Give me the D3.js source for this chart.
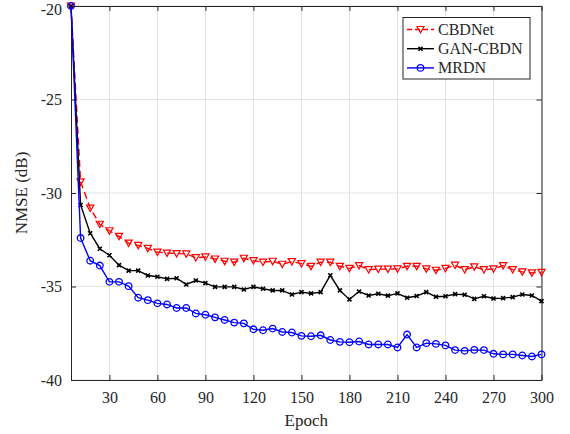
<!DOCTYPE html>
<html>
<head>
<meta charset="utf-8">
<script src="https://cdn.jsdelivr.net/npm/d3@7"></script>
<style>
  body { margin: 0; background: #fff; }
</style>
</head>
<body>
<svg id="chart" width="570" height="434"></svg>
<script>
// values
const epochs = [6, 12, 18, 24, 30, 36, 42, 48, 54, 60, 66, 72, 78, 84, 90, 96, 102, 108, 114, 120,
  126, 132, 138, 144, 150, 156, 162, 168, 174, 180, 186, 192, 198, 204, 210, 216, 222, 228, 234, 240,
  246, 252, 258, 264, 270, 276, 282, 288, 294, 300]

const cbdnet = [-20, -29.4, -30.81, -31.67, -32.02, -32.32, -32.68, -32.8, -32.96, -33.16,
  -33.21, -33.24, -33.26, -33.46, -33.42, -33.53, -33.65, -33.7, -33.49, -33.62,
  -33.7, -33.65, -33.81, -33.67, -33.78, -33.92, -33.7, -33.7, -33.92, -34.03,
  -33.88, -34.1, -34.07, -34.07, -34.06, -33.92, -33.92, -34.06, -34.13, -34.03,
  -33.86, -34.1, -33.95, -34.1, -34.06, -33.88, -34.1, -34.22, -34.27, -34.24]

const ganCbdn = [-20, -30.64, -32.15, -32.98, -33.33, -33.86, -34.15, -34.15, -34.41, -34.48,
  -34.59, -34.56, -34.89, -34.68, -34.82, -35.02, -35.02, -35.02, -35.16, -35.02,
  -35.12, -35.21, -35.21, -35.43, -35.3, -35.37, -35.3, -34.4, -35.21, -35.69,
  -35.27, -35.48, -35.39, -35.49, -35.37, -35.6, -35.51, -35.3, -35.55, -35.52,
  -35.41, -35.44, -35.66, -35.52, -35.64, -35.62, -35.57, -35.43, -35.48, -35.78]

const mrdn = [-20, -32.41, -33.62, -33.88, -34.75, -34.75, -34.98, -35.6, -35.73, -35.9,
  -35.96, -36.15, -36.15, -36.44, -36.51, -36.65, -36.79, -36.93, -36.97, -37.29,
  -37.34, -37.25, -37.43, -37.46, -37.64, -37.66, -37.61, -37.86, -37.96, -37.98,
  -37.94, -38.1, -38.1, -38.1, -38.26, -37.57, -38.26, -38.03, -38.07, -38.15,
  -38.4, -38.44, -38.39, -38.4, -38.6, -38.63, -38.63, -38.69, -38.74, -38.63]

const xTicks = [30, 60, 90, 120, 150, 180, 210, 240, 270, 300]
const yTicks = [-40, -35, -30, -25, -20]

const serif = '"Liberation Serif", "Times New Roman", Times, serif'

const margin = { top: 6, right: 28.5, bottom: 54, left: 71 }
const width = 570 - margin.left - margin.right
const height = 434 - margin.top - margin.bottom

const svg = d3.select('#chart')
const chart = svg.append('g')
  .attr('transform', `translate(${margin.left}, ${margin.top})`)

const xScale = d3.scaleLinear().domain([6, 300]).range([0, width])
const yScale = d3.scaleLinear().domain([-40, -20]).range([height, 0])

// grid
chart.append('g')
  .selectAll('line.gx')
  .data(xTicks)
  .enter().append('line')
    .attr('x1', d => xScale(d)).attr('x2', d => xScale(d))
    .attr('y1', 0).attr('y2', height)
    .attr('stroke', '#e3e3e3').attr('stroke-width', 1)
chart.append('g')
  .selectAll('line.gy')
  .data(yTicks)
  .enter().append('line')
    .attr('y1', d => yScale(d)).attr('y2', d => yScale(d))
    .attr('x1', 0).attr('x2', width)
    .attr('stroke', '#e3e3e3').attr('stroke-width', 1)

// axes (ticks inward, box all round)
const axisColor = '#262626'
const styleAxis = g => {
  g.attr('font-family', serif)
  g.select('.domain').attr('stroke', axisColor)
  g.selectAll('.tick line').attr('stroke', axisColor)
  g.selectAll('.tick text')
    .attr('fill', axisColor)
    .style('font-family', serif)
    .style('font-size', '16px')
}
chart.append('g')
  .attr('transform', `translate(0, ${height})`)
  .call(d3.axisBottom(xScale).tickValues(xTicks).tickSizeInner(-5).tickSizeOuter(0).tickPadding(12))
  .call(styleAxis)
chart.append('g')
  .call(d3.axisTop(xScale).tickValues(xTicks).tickSizeInner(-5).tickSizeOuter(0).tickFormat(''))
  .call(styleAxis)
chart.append('g')
  .call(d3.axisLeft(yScale).tickValues(yTicks).tickSizeInner(-5).tickSizeOuter(0).tickPadding(9)
    .tickFormat(d => String(d)))
  .call(styleAxis)
  .call(g => g.selectAll('.tick text').filter(d => d === -20).attr('dy', '0.5em'))
chart.append('g')
  .attr('transform', `translate(${width}, 0)`)
  .call(d3.axisRight(yScale).tickValues(yTicks).tickSizeInner(-5).tickSizeOuter(0).tickFormat(''))
  .call(styleAxis)

const series = [
  { name: 'CBDNet', values: cbdnet, color: '#ff0000', dash: '7,4', marker: 'tri' },
  { name: 'GAN-CBDN', values: ganCbdn, color: '#000000', dash: null, marker: 'x' },
  { name: 'MRDN', values: mrdn, color: '#0000ff', dash: null, marker: 'circle' }
]

const line = d3.line()
  .x(d => xScale(d[0]))
  .y(d => yScale(d[1]))

function drawMarker(g, type, color) {
  if (type === 'tri') {
    g.append('path').attr('d', 'M-3.6,-3 L3.6,-3 L0,3.4 Z')
      .attr('fill', 'none').attr('stroke', color).attr('stroke-width', 1.2)
  } else if (type === 'x') {
    g.append('path').attr('d', 'M-2,-2 L2,2 M-2,2 L2,-2')
      .attr('stroke', color).attr('stroke-width', 1.6)
  } else {
    g.append('circle').attr('r', 3.3)
      .attr('fill', 'none').attr('stroke', color).attr('stroke-width', 1.3)
  }
}

series.forEach(s => {
  const pts = epochs.map((e, i) => [e, s.values[i]])
  chart.append('path')
    .datum(pts)
    .attr('d', line)
    .attr('fill', 'none')
    .attr('stroke', s.color)
    .attr('stroke-width', 1.4)
    .attr('stroke-dasharray', s.dash)
  chart.append('g')
    .selectAll('g')
    .data(pts)
    .enter().append('g')
      .attr('transform', d => `translate(${xScale(d[0])}, ${yScale(d[1])})`)
      .each(function() { drawMarker(d3.select(this), s.marker, s.color) })
})

// legend
const legend = svg.append('g').attr('transform', 'translate(403, 17.5)')
legend.append('rect')
  .attr('width', 127).attr('height', 61.5)
  .attr('fill', '#fff').attr('stroke', axisColor).attr('stroke-width', 1)
series.forEach((s, i) => {
  const ly = 12 + i * 19.2
  legend.append('line')
    .attr('x1', 4).attr('x2', 31).attr('y1', ly).attr('y2', ly)
    .attr('stroke', s.color).attr('stroke-width', 1.4)
    .attr('stroke-dasharray', s.dash ? '5,3' : null)
  drawMarker(legend.append('g').attr('transform', `translate(17.5, ${ly})`), s.marker, s.color)
  legend.append('text')
    .attr('x', 35).attr('y', ly + 5.5)
    .attr('fill', axisColor)
    .style('font-family', serif)
    .style('font-size', '16px')
    .text(s.name)
})

// axis labels
svg.append('text')
  .attr('x', margin.left + width / 2)
  .attr('y', 426)
  .attr('text-anchor', 'middle')
  .attr('fill', axisColor)
  .style('font-family', serif)
  .style('font-size', '17px')
  .text('Epoch')

svg.append('text')
  .attr('transform', `translate(27, ${margin.top + height / 2}) rotate(-90)`)
  .attr('text-anchor', 'middle')
  .attr('fill', axisColor)
  .style('font-family', serif)
  .style('font-size', '17px')
  .text('NMSE (dB)')
</script>
</body>
</html>
